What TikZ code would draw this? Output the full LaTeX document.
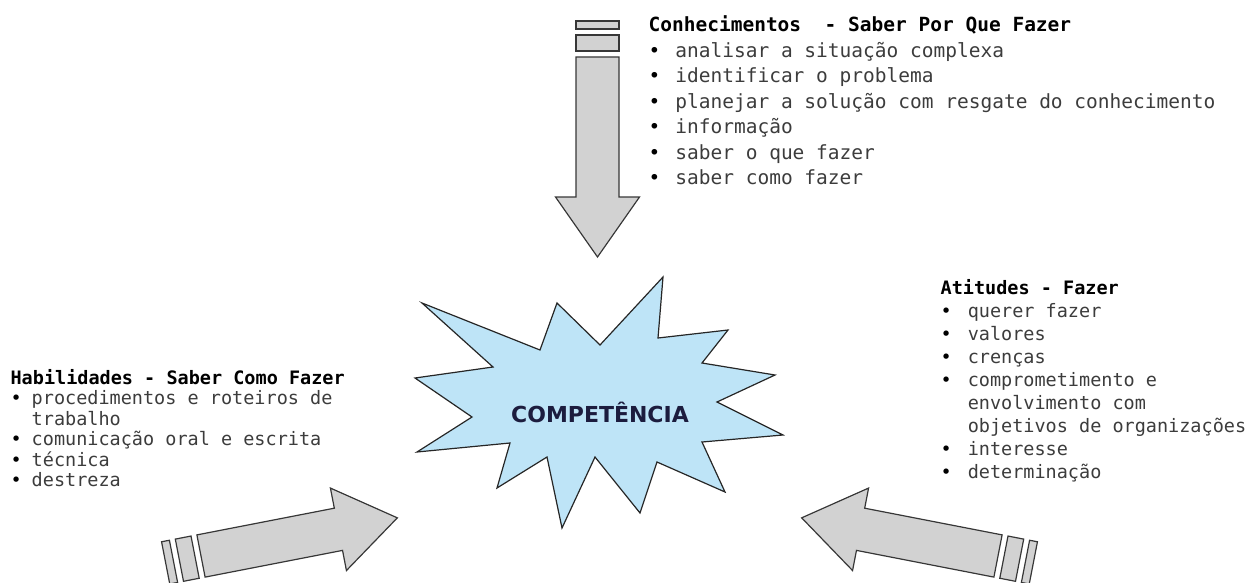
\documentclass[tikz,border=0pt]{standalone}
\usepackage{fontspec}
\usepackage{tikz}

\newfontfamily\techfont{DejaVu Sans Mono}
\newfontfamily\burstfont{DejaVu Sans}
\definecolor{burstblue}{RGB}{190,228,247}
\definecolor{arrowgray}{RGB}{210,210,210}
\definecolor{edgegray}{RGB}{55,55,55}
\definecolor{textgray}{RGB}{60,60,60}
\definecolor{navy}{RGB}{28,28,62}

\newcommand{\head}[1]{\textcolor{black}{\bfseries #1}}
\newcommand{\dotitem}{\textcolor{black}{\textbullet}}

\tikzset{
  fatarrow/.pic = {
    \draw [arrowbox] (0, -21.5) -- (140, -21.5) -- (140, -42) -- (200, 0)
          -- (140, 42) -- (140, 21.5) -- (0, 21.5) -- cycle;
    \draw [arrowbox] (-22, -21.5) rectangle (-6, 21.5);
    \draw [arrowbox] (-36, -21.5) rectangle (-28, 21.5);
  }
}

\begin{document}
\begin{tikzpicture}[x = 1pt, y = -1pt, line width = 1.2pt,
                    arrowbox/.style = {draw = edgegray, fill = arrowgray, line join = miter},
                    block/.style = {inner sep = 0pt, anchor = base west, text = textgray},
                    burst/.style = {draw = black!85, fill = burstblue, line join = miter}]
  \useasboundingbox (0, 0) rectangle (1249, 583);

  % star in the middle
  \draw [burst] (422, 303) -- (540, 350) -- (557, 303) -- (600, 345) -- (663, 277)
        -- (658, 338) -- (728, 330) -- (702, 363) -- (775, 375) -- (717, 402)
        -- (783, 435) -- (702, 442) -- (725, 492) -- (657, 462) -- (640, 513)
        -- (595, 457) -- (562, 528) -- (547, 457) -- (497, 488) -- (510, 443)
        -- (417, 452) -- (472, 417) -- (415, 378) -- (493, 367) -- cycle;
  \node [font = \burstfont\bfseries\fontsize{22}{24}\selectfont, text = navy] (comp) at (600, 412) {COMPETÊNCIA};

  % the three arrows
  \pic [rotate = -90] at (597.5, 57) {fatarrow};
  \pic [rotate = 11] at (201, 556) {fatarrow};
  \pic [rotate = 169] at (998, 556) {fatarrow};

  \node [block, font = \techfont\fontsize{19.5}{25.5}\selectfont] (conhec) at (648, 32) {%
    \begin{tabular}[t]{@{}l@{\hspace{15pt}}l@{}}
      \multicolumn{2}{@{}l@{}}{\head{Conhecimentos~~- Saber Por Que Fazer}} \\
      \dotitem & analisar a situação complexa \\
      \dotitem & identificar o problema \\
      \dotitem & planejar a solução com resgate do conhecimento \\
      \dotitem & informação \\
      \dotitem & saber o que fazer \\
      \dotitem & saber como fazer
    \end{tabular}};

  \node [block, font = \techfont\fontsize{18.5}{23}\selectfont] (atit) at (940, 294) {%
    \begin{tabular}[t]{@{}l@{\hspace{16pt}}l@{}}
      \multicolumn{2}{@{}l@{}}{\head{Atitudes - Fazer}} \\
      \dotitem & querer fazer \\
      \dotitem & valores \\
      \dotitem & crenças \\
      \dotitem & comprometimento e \\
               & envolvimento com \\
               & objetivos de organizações \\
      \dotitem & interesse \\
      \dotitem & determinação
    \end{tabular}};

  \node [block, font = \techfont\fontsize{18.5}{20.5}\selectfont] (habil) at (10, 384) {%
    \begin{tabular}[t]{@{}l@{\hspace{10pt}}l@{}}
      \multicolumn{2}{@{}l@{}}{\head{Habilidades - Saber Como Fazer}} \\
      \dotitem & procedimentos e roteiros de \\
               & trabalho \\
      \dotitem & comunicação oral e escrita \\
      \dotitem & técnica \\
      \dotitem & destreza
    \end{tabular}};
\end{tikzpicture}
\end{document}
